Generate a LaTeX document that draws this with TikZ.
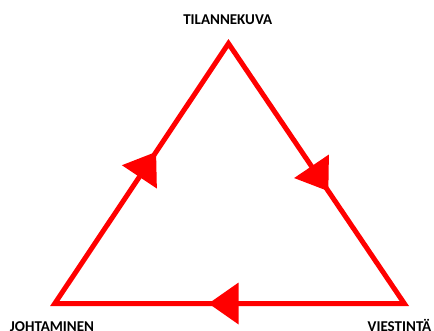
\documentclass[tikz,border=0pt]{standalone}
\usepackage{fontspec}
\setmainfont{Carlito}
\usetikzlibrary{decorations.markings}
\begin{document}
\begin{tikzpicture}[x=1pt,y=1pt,
  edge/.style={draw=red,line width=5pt,line join=miter},
  headat/.style={postaction={decorate,decoration={markings,
     mark=at position #1 with {\fill[red] (15,0) -- (-15,21) -- (-15,-21) -- cycle;}}}},
  lab/.style={font=\bfseries\fontsize{15}{18}\selectfont,anchor=base,inner sep=0pt}]
\useasboundingbox (0,0) rectangle (434,330);
\coordinate (T) at (228.5,286.5);
\coordinate (L) at (54.8,26.5);
\coordinate (R) at (404.3,26.5);
\draw[edge] (L) -- (T) -- (R) -- cycle;
\path[headat=0.535] (L) -- (T);
\path[headat=0.52] (T) -- (R);
\path[headat=0.517] (R) -- (L);
\node[lab] (tl) at (227.7,305) {TILANNEKUVA};
\node[lab] (jo) at (52,-1) {JOHTAMINEN};
\node[lab] (vi) at (399.5,-1) {VIESTINTÄ};
\end{tikzpicture}
\end{document}
